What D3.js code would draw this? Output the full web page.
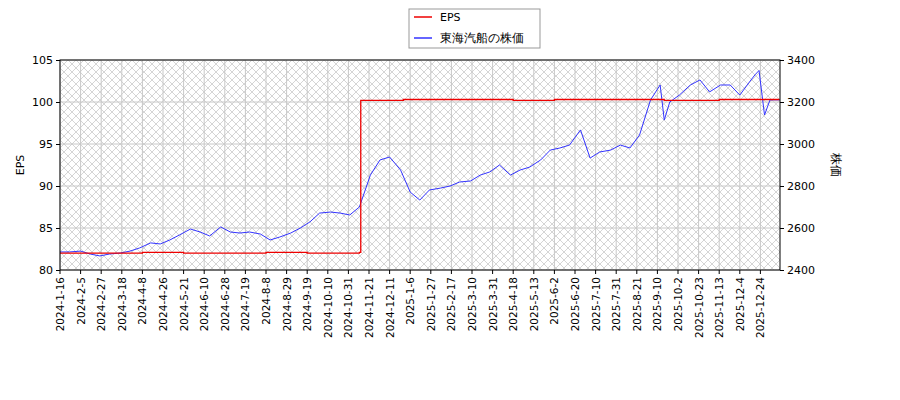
<!DOCTYPE html><html><head><meta charset="utf-8"><script src="https://cdn.jsdelivr.net/npm/d3@7"></script>
<style>body{margin:0;background:#fff}text{font-family:"DejaVu Sans";}</style></head><body><svg id="c" width="900" height="400"></svg>
<script>
const tickLabels=["2024-1-16","2024-2-5","2024-2-27","2024-3-18","2024-4-8","2024-4-26","2024-5-21","2024-6-10","2024-6-28","2024-7-19","2024-8-8","2024-8-29","2024-9-19","2024-10-10","2024-10-31","2024-11-21","2024-12-11","2025-1-6","2025-1-27","2025-2-17","2025-3-10","2025-3-31","2025-4-18","2025-5-13","2025-6-2","2025-6-20","2025-7-10","2025-7-31","2025-8-21","2025-9-10","2025-10-2","2025-10-23","2025-11-13","2025-12-4","2025-12-24"];
const totalDays=525, tickStep=15;
// trading-day index, price
const priceDay=[0,7,15,22,29,36,44,51,58,66,73,80,87,95,102,109,117,124,131,138,146,153,160,168,175,182,189,197,204,211,218,226,233,240,248,255,262,269,277,284,291,299,306,313,320,328,335,342,350,357,364,371,379,386,393,401,408,415,422,430,437,440,444,451,459,466,473,481,488,495,502,506,509,513,517,524];
const price=[2486,2486,2490,2476,2467,2476,2481,2490,2505,2529,2524,2543,2567,2595,2581,2562,2605,2581,2576,2581,2571,2543,2557,2576,2600,2629,2671,2676,2671,2662,2700,2852,2924,2938,2876,2771,2733,2781,2790,2800,2819,2824,2852,2867,2900,2852,2876,2890,2924,2971,2981,2995,3067,2933,2962,2971,2995,2981,3043,3210,3281,3114,3200,3233,3281,3305,3248,3281,3281,3233,3295,3329,3350,3138,3210,3210];
const epsDay=[0,30,60,90,120,150,180,218,219,250,300,330,360,400,440,480,524];
const eps=[82,82,82.1,82,82,82.1,82,82.1,100.2,100.3,100.3,100.2,100.3,100.3,100.2,100.3,100.3];
const svg=d3.select("#c");
const L=60,R=780,T=60,B=270;
const tickPos=tickLabels.map((d,i)=>i*tickStep);
const xs=d3.scaleLinear().domain([0,tickStep]).range([L,L+20.6]);
const yE=d3.scaleLinear().domain([80,105]).range([B,T]);
const yP=d3.scaleLinear().domain([2400,3400]).range([B,T]);
const defs=svg.append("defs");
const pat=defs.append("pattern").attr("id","h").attr("width",8).attr("height",8).attr("patternUnits","userSpaceOnUse");
pat.append("path").attr("d","M0,0L8,8M8,0L0,8").attr("stroke","#aaa").attr("stroke-width",0.5);
svg.append("rect").attr("x",L).attr("y",T).attr("width",R-L).attr("height",B-T).attr("fill","url(#h)");
const g=svg.append("g");
tickPos.forEach(t=>g.append("line").attr("x1",xs(t)).attr("x2",xs(t)).attr("y1",T).attr("y2",B).attr("stroke","#c8c8c8"));
[80,85,90,95,100,105].forEach(v=>g.append("line").attr("x1",L).attr("x2",R).attr("y1",yE(v)).attr("y2",yE(v)).attr("stroke","#c8c8c8"));
svg.append("path").attr("d",d3.line().x((d,i)=>xs(priceDay[i])).y(d=>yP(d))(price)).attr("fill","none").attr("stroke","#3333ff").attr("stroke-width",1);
svg.append("path").attr("d",d3.line().curve(d3.curveStepAfter).x((d,i)=>xs(epsDay[i])).y(d=>yE(d))(eps)).attr("fill","none").attr("stroke","#ee0000").attr("stroke-width",1.3);
svg.append("rect").attr("x",L).attr("y",T).attr("width",R-L).attr("height",B-T).attr("fill","none").attr("stroke","#000");
const la=svg.append("g").attr("transform",`translate(${L},0)`).call(d3.axisLeft(yE).tickValues([80,85,90,95,100,105]).tickSize(4));
const ra=svg.append("g").attr("transform",`translate(${R},0)`).call(d3.axisRight(yP).tickValues([2400,2600,2800,3000,3200,3400]).tickFormat(d3.format("d")).tickSize(4));
[la,ra].forEach(a=>{a.select(".domain").remove();a.selectAll("text").attr("font-size",11).attr("fill","#000");});
const bx=svg.append("g").attr("transform",`translate(0,${B})`);
tickPos.forEach((t,i)=>{bx.append("line").attr("x1",xs(t)).attr("x2",xs(t)).attr("y1",0).attr("y2",4).attr("stroke","#000");
bx.append("text").attr("transform",`translate(${xs(t)+4},7) rotate(-90)`).attr("text-anchor","end").attr("font-size",10.5).text(tickLabels[i]);});
svg.append("text").attr("transform","translate(24,165) rotate(-90)").attr("text-anchor","middle").attr("font-size",11).text("EPS");
svg.append("text").attr("transform","translate(832,165) rotate(90)").attr("text-anchor","middle").attr("font-size",12).attr("font-family","Noto Sans CJK JP").text("株価");
const lg=svg.append("g");
lg.append("rect").attr("x",409).attr("y",9).attr("width",131).attr("height",39).attr("fill","#fff").attr("stroke","#999");
lg.append("line").attr("x1",414).attr("x2",432).attr("y1",17).attr("y2",17).attr("stroke","#ee0000").attr("stroke-width",1.5);
lg.append("line").attr("x1",414).attr("x2",432).attr("y1",38).attr("y2",38).attr("stroke","#3333ff").attr("stroke-width",1.5);
lg.append("text").attr("x",440).attr("y",21).attr("font-size",11).text("EPS");
lg.append("text").attr("x",440).attr("y",42).attr("font-size",12).attr("font-family","Noto Sans CJK JP").text("東海汽船の株価");
</script></body></html>
